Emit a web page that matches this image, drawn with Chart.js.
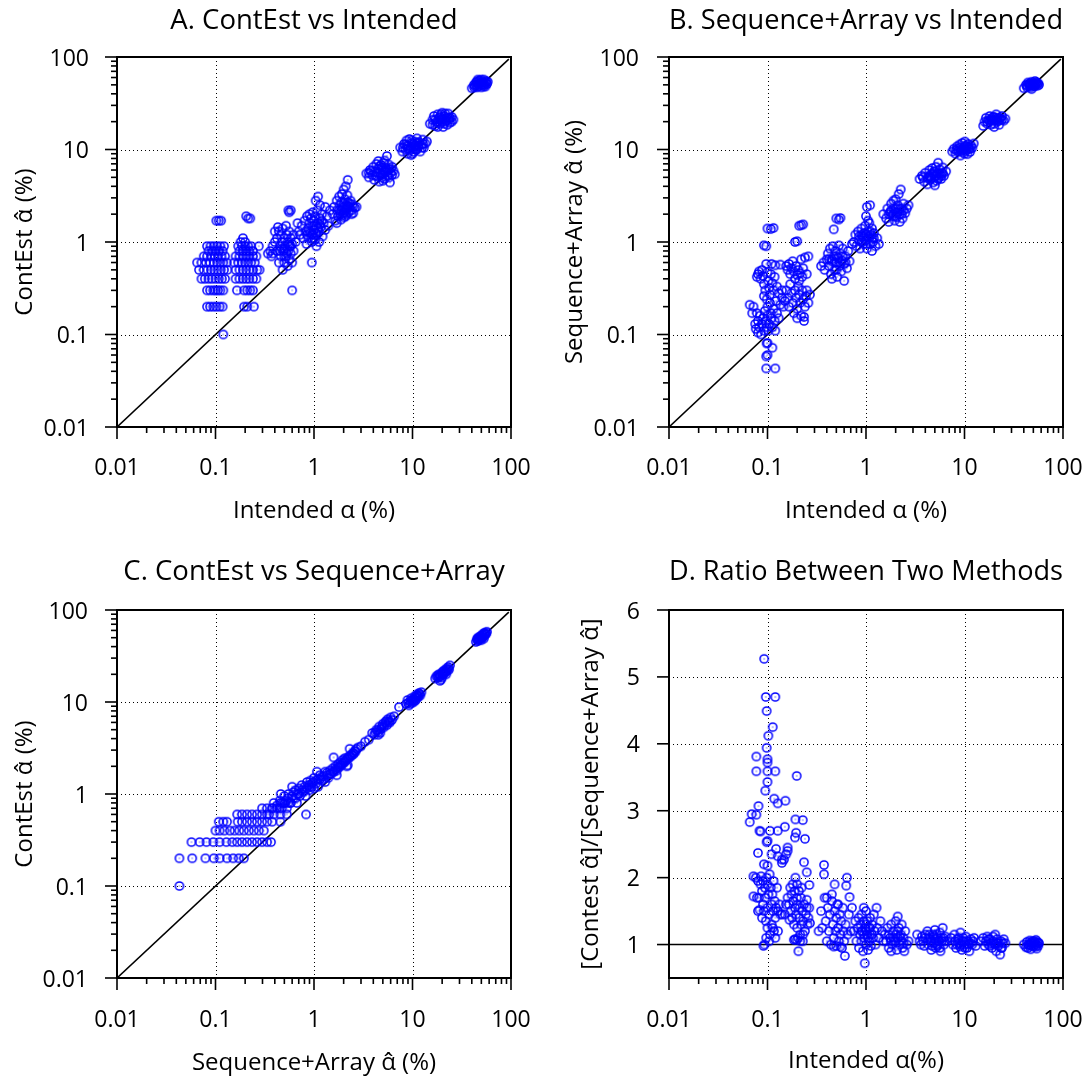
<!DOCTYPE html>
<html><head><meta charset="utf-8">
<script src="https://cdn.jsdelivr.net/npm/chart.js@4.4.1/dist/chart.umd.min.js"></script>
<style>
html,body{margin:0;padding:0;background:#fff;}
body{width:1092px;height:1078px;position:relative;overflow:hidden;}
.box{position:absolute;width:546px;height:539px;}
canvas{display:block;}
</style></head><body>
<div class="box" style="left:0;top:0"><canvas id="cA" width="546" height="539"></canvas></div>
<div class="box" style="left:546px;top:0"><canvas id="cB" width="546" height="539"></canvas></div>
<div class="box" style="left:0;top:539px"><canvas id="cC" width="546" height="539"></canvas></div>
<div class="box" style="left:546px;top:539px"><canvas id="cD" width="546" height="539"></canvas></div>
<script>
// ---------- tick labels ----------
const logTickValues = [0.01, 0.1, 1, 10, 100];
const logTickLabels = ["0.01", "0.1", "1", "10", "100"];
const logGridValues = [0.1, 1, 10];
const ratioTickValues = [1, 2, 3, 4, 5, 6];
const ratioTickLabels = ["1", "2", "3", "4", "5", "6"];
const ratioGridValues = [2, 3, 4, 5];

// ---------- reference lines ----------
const diagX = [0.01, 95];
const diagY = [0.01, 95];
const unityX = [0.01, 100];
const unityY = [1, 1];

// ---------- A: ContEst vs Intended  [intended, contest] ----------
const contestVsIntended = [
[0.082,0.9],[0.089,0.9],[0.096,0.9],[0.104,0.9],[0.112,0.9],[0.122,0.9],
[0.085,0.8],[0.093,0.8],[0.1,0.8],[0.108,0.8],[0.118,0.8],
[0.076,0.7],[0.082,0.7],[0.09,0.7],[0.098,0.7],[0.106,0.7],[0.115,0.7],[0.125,0.7],
[0.065,0.6],[0.072,0.6],[0.08,0.6],[0.088,0.6],[0.096,0.6],[0.104,0.6],[0.112,0.6],[0.12,0.6],[0.13,0.6],
[0.068,0.5],[0.076,0.5],[0.083,0.5],[0.09,0.5],[0.097,0.5],[0.105,0.5],[0.113,0.5],[0.122,0.5],[0.132,0.5],
[0.072,0.4],[0.078,0.4],[0.085,0.4],[0.092,0.4],[0.1,0.4],[0.108,0.4],[0.116,0.4],[0.125,0.4],
[0.082,0.3],[0.088,0.3],[0.095,0.3],[0.1,0.3],[0.106,0.3],[0.112,0.3],[0.12,0.3],
[0.082,0.2],[0.088,0.2],[0.095,0.2],[0.102,0.2],[0.11,0.2],[0.118,0.2],
[0.12,0.1],[0.102,1.7],[0.108,1.7],[0.114,1.7],
[0.19,1.1],[0.18,1.0],[0.2,1.0],
[0.17,0.9],[0.185,0.9],[0.2,0.9],[0.215,0.9],[0.23,0.9],[0.275,0.9],
[0.175,0.8],[0.19,0.8],[0.205,0.8],[0.22,0.8],[0.24,0.8],
[0.16,0.7],[0.175,0.7],[0.19,0.7],[0.205,0.7],[0.22,0.7],[0.24,0.7],[0.26,0.7],
[0.155,0.6],[0.17,0.6],[0.185,0.6],[0.2,0.6],[0.215,0.6],[0.23,0.6],[0.25,0.6],
[0.16,0.5],[0.175,0.5],[0.19,0.5],[0.205,0.5],[0.22,0.5],[0.24,0.5],[0.265,0.5],[0.28,0.5],
[0.16,0.4],[0.175,0.4],[0.19,0.4],[0.205,0.4],[0.22,0.4],[0.24,0.4],[0.26,0.4],
[0.165,0.3],[0.195,0.3],[0.21,0.3],[0.225,0.3],[0.24,0.3],
[0.195,0.2],[0.21,0.2],[0.245,0.2],
[0.205,1.9],[0.215,1.8],[0.225,1.8],
[0.34,0.75],[0.36,0.8],[0.37,0.7],[0.38,0.9],[0.38,0.75],[0.4,1.0],[0.4,1.3],[0.42,1.1],[0.42,0.8],[0.43,1.45],
[0.44,1.3],[0.44,0.6],[0.45,0.9],[0.46,1.2],[0.46,0.7],[0.47,1.0],[0.48,1.4],[0.48,0.5],[0.49,0.8],[0.5,1.1],
[0.5,0.6],[0.51,0.9],[0.52,1.5],[0.52,0.7],[0.53,1.2],[0.54,1.0],[0.54,0.55],[0.55,0.8],[0.56,1.3],[0.56,0.65],
[0.57,0.9],[0.58,1.1],[0.58,0.75],[0.6,0.95],[0.6,0.6],[0.62,1.2],[0.62,0.8],[0.65,1.0],[0.68,1.6],[0.7,1.3],
[0.55,2.2],[0.58,2.2],[0.56,2.1],[0.6,0.3],
[0.45,0.8],[0.5,0.85],[0.55,0.95],[0.5,0.7],[0.47,0.85],[0.53,0.75],[0.58,0.9],
[0.72,1.2],[0.75,1.5],[0.78,1.1],[0.8,1.7],[0.82,1.3],[0.84,0.95],[0.85,1.9],[0.87,1.4],[0.88,1.1],[0.9,1.6],
[0.9,2.0],[0.92,1.25],[0.93,1.8],[0.95,1.0],[0.96,1.5],[0.97,2.1],[0.98,1.2],[1.0,1.7],[1.0,1.35],[1.02,1.05],
[1.03,1.9],[1.04,2.8],[1.05,1.5],[1.07,1.2],[1.08,2.2],[1.1,3.1],[1.1,1.6],[1.12,1.3],[1.13,1.0],[1.15,1.8],
[1.17,1.45],[1.2,2.0],[1.22,1.15],[1.25,1.6],[1.3,1.35],[1.35,1.9],[1.4,1.5],[0.95,0.6],[1.06,0.9],[1.3,2.4],
[1.45,2.2],[1.15,2.5],
[0.9,1.3],[1.0,1.5],[1.05,1.25],[1.1,1.4],[0.95,1.2],[1.0,1.1],[1.15,1.55],[0.85,1.2],[1.2,1.7],
[1.55,2.0],[1.6,2.4],[1.65,1.7],[1.7,2.8],[1.72,2.2],[1.75,1.9],[1.8,3.1],[1.82,2.5],[1.85,2.0],[1.88,1.75],
[1.9,2.7],[1.92,3.3],[1.95,2.3],[1.98,2.05],[2.0,3.7],[2.0,2.6],[2.02,1.85],[2.05,2.9],[2.08,2.2],[2.1,4.0],
[2.12,2.5],[2.15,2.0],[2.18,3.2],[2.2,4.7],[2.2,2.7],[2.25,2.1],[2.3,2.4],[2.35,2.8],[2.4,2.2],[2.45,2.55],
[2.5,2.05],[2.6,2.35],[2.7,2.4],[1.7,1.6],[2.1,1.9],
[1.9,2.2],[2.0,2.4],[2.15,2.3],[2.3,2.6],[2.4,2.0],[1.8,2.2],[2.05,2.1],[2.2,2.45],[1.95,1.95],[2.5,2.4],
[3.4,5.5],[3.6,5.0],[3.7,6.0],[3.9,5.3],[4.0,6.5],[4.1,4.7],[4.2,5.8],[4.3,7.0],[4.4,5.1],[4.5,6.2],
[4.6,4.5],[4.7,5.6],[4.8,6.8],[4.9,5.0],[5.0,6.0],[5.0,5.4],[5.1,7.2],[5.2,4.8],[5.3,6.4],[5.4,5.7],
[5.5,8.5],[5.6,5.2],[5.7,6.9],[5.8,6.1],[5.9,4.4],[6.0,5.6],[6.2,6.5],[6.4,5.9],[6.6,5.4],[5.2,7.6],[4.5,7.5],
[4.2,5.2],[4.6,6.6],[5.0,4.6],[5.4,6.2],[5.8,5.0],[6.2,5.3],[3.8,5.8],[4.4,5.6],[5.6,5.9],[4.8,5.3],
[5.2,5.8],[6.0,6.2],[3.6,5.6],[4.9,6.4],
[7.5,10.5],[7.9,9.5],[8.2,11.5],[8.5,10],[8.7,12.5],[8.9,9],[9.1,11],[9.3,13],[9.5,10.2],[9.7,8.7],
[9.9,11.8],[10.1,10.6],[10.3,9.4],[10.5,12.2],[10.7,11.2],[10.9,9.9],[11.1,13.2],[11.4,10.7],[11.7,12],[12,9.5],
[12.3,11.3],[12.7,12.8],[13,10.4],[13.5,11.6],[14,12.2],[10,9],[11,10],
[8.0,10.5],[8.8,11],[9.4,9.8],[10.2,11.5],[10.8,10.2],[11.5,11],[12.5,10.5],[9,10.2],[10.5,10.8],[11.2,11.8],
[12.8,11.5],[9.8,12.5],[8.5,11.3],
[15,19],[16,21],[16.5,23],[17,18],[17.5,20],[18,24],[18.5,22],[19,19],[19.5,21],[20,25],
[20.5,17.5],[21,23],[21.5,20],[22,22],[22.5,18.5],[23,24.5],[23.5,21],[24,19.5],[25,22.5],[26,21],[20,20],[18,17.5],
[17,21],[18,19.5],[19,22.5],[20,21.5],[21,19],[22,20.5],[23,22],[24,22],[19.5,24],[21.5,24.5],[16,18.5],[25,20],
[40,46],[42,50],[43,48],[44,53],[45,47],[46,51],[47,55],[48,49],[49,52],[50,47],
[51,54],[52,50],[53,57],[54,52],[55,48],[56,55],[57,51],[46,57],[50,57],
[42,47],[44,50],[46,48],[48,52],[50,50],[52,53],[54,50],[56,53],[48,56],[45,54],[53,48],[58,54]
];

// ---------- B: Sequence+Array vs Intended  [intended, seqArray] ----------
const seqArrayVsIntended = [
[0.066,0.21],[0.07,0.17],[0.072,0.2],[0.075,0.13],[0.076,0.115],[0.078,0.17],[0.08,0.105],[0.08,0.14],[0.082,0.12],[0.084,0.16],
[0.086,0.1],[0.088,0.13],[0.09,0.15],[0.092,0.11],[0.094,0.18],[0.096,0.14],[0.098,0.12],[0.1,0.16],[0.1,0.2],[0.102,0.11],
[0.104,0.13],[0.106,0.22],[0.108,0.17],[0.11,0.15],[0.112,0.12],[0.115,0.19],[0.118,0.14],[0.12,0.11],[0.122,0.23],[0.125,0.17],
[0.13,0.15],[0.135,0.21],[0.14,0.25],
[0.078,0.42],[0.08,0.45],[0.082,0.48],[0.085,0.4],[0.088,0.5],[0.09,0.43],[0.092,0.35],[0.095,0.3],[0.097,0.58],[0.1,0.47],
[0.102,0.38],[0.104,0.32],[0.106,0.27],[0.108,0.45],[0.11,0.58],[0.112,0.36],[0.115,0.3],[0.118,0.42],[0.12,0.56],[0.125,0.33],
[0.13,0.28],[0.135,0.57],[0.092,0.26],[0.098,0.24],
[0.092,0.92],[0.097,0.9],[0.1,1.4],[0.108,1.38],[0.115,1.42],[0.098,0.08],[0.1,0.081],[0.097,0.058],[0.1,0.06],[0.112,0.072],
[0.097,0.043],[0.12,0.043],
[0.155,0.55],[0.16,0.5],[0.165,0.58],[0.17,0.45],[0.175,0.52],[0.18,0.62],[0.185,0.48],[0.19,0.4],[0.195,0.55],[0.2,0.44],
[0.205,0.5],[0.21,0.38],[0.215,0.46],[0.22,0.65],[0.225,0.42],[0.23,0.52],[0.24,0.68],[0.25,0.45],[0.26,0.7],
[0.155,0.3],[0.16,0.25],[0.165,0.2],[0.17,0.35],[0.175,0.28],[0.18,0.22],[0.185,0.17],[0.19,0.3],[0.195,0.25],[0.2,0.19],
[0.205,0.33],[0.21,0.27],[0.215,0.22],[0.22,0.16],[0.225,0.3],[0.23,0.24],[0.235,0.14],[0.24,0.2],[0.245,0.26],[0.25,0.3],
[0.26,0.22],[0.27,0.27],[0.235,0.155],[0.145,0.2],[0.14,0.3],[0.15,0.23],[0.19,1.0],[0.2,1.02],[0.21,1.5],[0.22,1.52],
[0.23,1.55],[0.2,0.15],
[0.35,0.55],[0.37,0.6],[0.38,0.5],[0.4,0.65],[0.41,0.75],[0.42,0.55],[0.43,0.85],[0.44,0.45],[0.45,0.62],[0.46,0.9],
[0.47,0.7],[0.48,0.5],[0.49,0.8],[0.5,0.6],[0.51,0.42],[0.52,0.68],[0.53,0.92],[0.54,0.55],[0.55,0.75],[0.56,0.48],
[0.57,0.63],[0.58,0.85],[0.6,0.58],[0.6,0.38],[0.62,0.7],[0.64,0.52],[0.66,0.8],[0.68,0.62],[0.47,1.37],[0.5,1.8],
[0.55,1.82],[0.53,1.75],[0.72,0.95],[0.45,0.4],
[0.45,0.65],[0.5,0.7],[0.55,0.6],[0.5,0.5],[0.48,0.6],[0.58,0.7],[0.42,0.65],[0.62,0.6],
[0.75,1.0],[0.78,1.2],[0.8,0.9],[0.83,1.3],[0.85,1.05],[0.87,0.85],[0.9,1.4],[0.92,1.15],[0.94,0.95],[0.96,1.25],
[0.98,1.5],[1.0,1.05],[1.02,0.85],[1.04,1.3],[1.06,1.1],[1.08,1.6],[1.1,0.95],[1.12,1.2],[1.15,1.4],[1.18,1.0],
[1.2,1.25],[1.25,0.9],[1.3,1.1],[1.35,0.95],[1.0,1.9],[1.02,2.4],[1.1,2.5],[1.05,1.7],[0.9,1.0],[1.15,0.8],
[0.9,1.2],[1.0,1.2],[1.05,1.15],[1.1,1.3],[0.95,1.1],[1.0,0.95],[1.15,1.1],[0.85,1.15],[1.2,1.1],
[1.5,2.0],[1.6,1.8],[1.65,2.3],[1.7,1.65],[1.75,2.1],[1.8,2.6],[1.85,1.9],[1.9,2.3],[1.95,1.7],[2.0,2.1],
[2.0,2.9],[2.05,1.85],[2.1,2.5],[2.15,3.3],[2.2,2.0],[2.25,3.7],[2.3,2.3],[2.35,1.8],[2.4,2.6],[2.5,2.05],
[2.6,2.3],[2.7,2.5],[2.2,1.65],[1.9,2.8],
[1.8,2.2],[2.0,2.3],[2.1,2.1],[2.2,2.3],[1.9,2.0],[2.3,2.0],[2.4,2.2],[2.0,1.9],[1.7,2.0],
[3.5,4.8],[3.7,5.2],[3.9,4.5],[4.0,5.6],[4.2,4.2],[4.3,5.0],[4.4,6.0],[4.5,4.7],[4.6,5.4],[4.8,4.4],
[4.9,5.8],[5.0,5.1],[5.1,6.5],[5.2,4.6],[5.3,5.5],[5.4,7.2],[5.5,5.0],[5.6,6.1],[5.8,4.8],[5.9,5.6],
[6.0,6.4],[6.2,5.2],[6.5,5.8],[4.7,6.3],[5.0,4.1],
[4.4,5.2],[4.8,5.5],[5.2,5.2],[5.6,5.5],[4.2,4.9],[5.0,5.8],[5.4,4.8],[6.0,5.5],[4.6,4.9],[5.8,5.2],[3.8,5.0],
[7.5,9.5],[7.8,10.2],[8.1,9.0],[8.4,10.8],[8.6,9.6],[8.9,11.3],[9.1,8.6],[9.3,10.0],[9.5,11.8],[9.7,9.3],
[9.9,10.6],[10.1,12.2],[10.3,9.7],[10.5,10.9],[10.7,8.9],[10.9,11.5],[11.1,10.2],[11.4,9.4],[11.7,11.0],[12.0,10.4],
[12.4,11.6],[10.0,9.0],
[8.5,10.2],[9,10.5],[9.5,9.8],[10,10.2],[10.5,10],[11,10.6],[9.2,9.6],[10.2,11],[11.5,10.2],[8.2,9.8],
[15.5,18],[16,20],[16.5,22],[17,19],[17.5,21],[18,23],[18.5,18.5],[19,20.5],[19.5,22.5],[20,19],
[20.5,21.5],[21,24],[21.5,20],[22,22],[22.5,18.5],[23,21],[24,23],[25,20.5],[26,21.5],[20,17.5],
[17,20],[18,20.5],[19,21.5],[20,20.5],[21,21],[22,20.5],[23,22],[18.5,21],[20,22.5],[24,21],
[40,46],[42,50],[43,47],[44,53],[45,49],[46,52],[47,47],[48,54],[49,50],[50,52],
[51,48],[52,55],[53,51],[54,53],[55,49],[56,52],[57,50],[48,45],
[43,49],[45,51],[47,50],[49,52],[51,51],[53,53],[55,51],[50,49],[46,49],[52,49]
];

// ---------- C: ContEst vs Sequence+Array  [seqArray, contest] ----------
const contestVsSeqArray = [
[0.043,0.1],
[0.043,0.2],[0.058,0.2],[0.079,0.2],[0.096,0.2],[0.11,0.2],[0.131,0.2],[0.151,0.2],[0.172,0.2],[0.194,0.2],
[0.057,0.3],[0.069,0.3],[0.081,0.3],[0.095,0.3],[0.11,0.3],[0.129,0.3],[0.148,0.3],[0.166,0.3],[0.186,0.3],[0.209,0.3],
[0.235,0.3],[0.264,0.3],[0.297,0.3],[0.334,0.3],[0.366,0.3],
[0.1,0.4],[0.11,0.4],[0.123,0.4],[0.14,0.4],[0.156,0.4],[0.174,0.4],[0.194,0.4],[0.218,0.4],[0.245,0.4],[0.275,0.4],[0.309,0.4],
[0.108,0.5],[0.12,0.5],[0.131,0.5],[0.168,0.5],[0.186,0.5],[0.209,0.5],[0.235,0.5],[0.264,0.5],[0.297,0.5],[0.334,0.5],[0.376,0.5],[0.456,0.5],
[0.166,0.6],[0.186,0.6],[0.209,0.6],[0.235,0.6],[0.264,0.6],[0.297,0.6],[0.334,0.6],[0.39,0.6],[0.456,0.6],[0.53,0.6],[0.83,0.6],
[0.297,0.7],[0.334,0.7],[0.375,0.7],[0.42,0.7],[0.47,0.7],[0.53,0.7],
[0.39,0.8],[0.456,0.8],[0.51,0.8],[0.576,0.8],[0.67,0.8],
[0.46,1.0],[0.5,0.95],[0.55,1.0],[0.6,1.2],
[0.35,0.6],[0.38,0.7],[0.42,0.75],[0.45,0.85],[0.48,0.8],[0.52,0.85],[0.55,0.9],[0.58,0.8],[0.6,0.95],
[0.62,1.05],[0.65,0.9],[0.65,1.1],[0.68,1.0],[0.7,1.15],[0.72,0.95],[0.75,1.1],[0.75,1.25],[0.78,1.05],[0.8,1.2],
[0.82,0.95],[0.85,1.15],[0.85,1.35],[0.88,1.25],[0.9,1.1],[0.92,1.4],[0.95,1.2],[0.98,1.35],[1.0,1.15],[1.0,1.5],
[1.05,1.3],[1.07,1.75],[1.1,1.45],[1.1,1.2],[1.15,1.6],[1.2,1.4],[1.25,1.55],[1.3,1.35],[1.3,1.75],[1.35,1.6],
[1.4,1.5],[1.45,1.8],[1.5,1.65],[1.55,1.9],[1.6,1.75],[1.65,2.0],[1.7,1.8],[1.75,2.1],[1.8,1.95],[1.85,2.2],
[1.9,2.05],[1.95,2.35],[2.0,2.2],[2.05,2.45],[2.1,2.3],[2.15,2.0],[2.2,2.5],[2.3,2.6],[2.3,3.1],[2.4,2.7],
[2.5,2.8],[2.6,2.95],[2.7,3.1],[2.8,3.2],[3.0,3.3],[1.7,1.6],[2.2,2.05],[1.58,2.5],
[0.9,1.2],[0.95,1.3],[1.05,1.4],[1.15,1.45],[1.2,1.55],[1.25,1.45],[1.35,1.7],[1.45,1.65],[1.55,1.75],[1.65,1.85],
[1.75,1.95],[1.85,2.05],[1.95,2.15],[2.05,2.25],[2.15,2.4],[2.25,2.45],[2.35,2.55],[2.45,2.65],[2.55,2.75],[2.65,2.9],
[0.55,0.8],[0.62,0.9],[0.7,1.0],[0.8,1.1],[0.45,0.7],[0.5,0.8],
[3.3,3.7],[3.6,3.9],[3.9,4.6],[4.1,4.4],[4.3,5.0],[4.5,4.7],[4.6,5.4],[4.8,5.1],[5.0,5.8],[5.1,5.3],
[5.3,6.0],[5.5,5.6],[5.6,6.5],[5.8,6.2],[6.0,6.8],[6.2,6.4],[4.5,4.4],[4.7,4.6],[5.9,6.0],[6.5,7.0],[7.3,8.8],
[4.4,4.9],[4.9,5.4],[5.2,5.6],[5.4,6.2],[5.7,6.0],[4.2,4.7],
[8.6,9.5],[8.9,10.5],[9.2,9.2],[9.5,10.2],[9.7,11],[10,9.8],[10.2,10.7],[10.5,11.5],[10.8,10.5],[11,12],
[11.3,11.2],[11.6,12.5],[12,11.8],[12.3,12.8],[9,9.8],[10,10.5],[11.5,11.5],
[9.5,9.6],[10.2,10.2],[10.8,11.2],[11.2,11.8],[9.8,10.4],[10.5,10.2],[11.8,12.2],
[17,18],[17.5,19],[18,18.5],[18.5,20],[19,19.5],[19.5,17.5],[20,21],[20.5,20],[21,22],[21.5,21],
[22,23],[22.5,22],[23,24],[23.5,22.5],[24,25],[20,18.5],[19,17],[22,20],
[18,19.5],[19,19],[20,20],[21,20.5],[22,21.5],[23,23],[20.5,21.5],[18.5,18.5],
[44,45],[45,48],[46,46],[47,50],[48,48],[49,52],[50,50],[51,54],[52,51],[53,56],
[54,53],[55,57],[56,55],[57,58],[46,50],[50,47],[53,49],
[46,48],[48,50],[50,52],[52,53],[54,55],[47,47],[51,50],[55,55],[49,49]
];

// ---------- D: Ratio vs Intended  [intended, ratio] ----------
const ratioVsIntended = [
[0.0925,5.27],[0.096,4.7],[0.12,4.7],[0.098,4.49],[0.113,4.25],[0.102,4.12],[0.098,3.94],[0.077,3.81],[0.1,3.77],[0.1,3.72],
[0.077,3.59],[0.1,3.59],[0.12,3.59],[0.1,3.43],[0.095,3.3],[0.117,3.18],[0.127,3.11],[0.081,3.07],[0.069,2.95],[0.077,2.94],
[0.066,2.83],[0.083,2.7],[0.085,2.69],[0.106,2.7],[0.127,2.7],[0.098,2.53],[0.1,2.55],[0.122,2.43],[0.08,2.37],[0.1,2.18],
[0.072,2.02],[0.092,2.2],[0.11,2.35],[0.127,2.32],[0.14,2.27],[0.147,2.27],[0.14,2.22],[0.152,3.15],[0.15,2.76],[0.16,2.45],
[0.16,2.4],[0.155,2.35],
[0.076,2.0],[0.08,1.95],[0.082,1.7],[0.085,1.9],[0.086,2.02],[0.088,1.8],[0.09,1.6],[0.09,1.95],[0.092,1.5],[0.094,1.85],
[0.095,1.7],[0.096,1.35],[0.098,2.0],[0.1,1.9],[0.1,1.55],[0.1,1.25],[0.102,1.75],[0.104,1.45],[0.105,2.05],[0.106,1.15],
[0.108,1.85],[0.11,1.6],[0.11,1.3],[0.112,1.75],[0.114,1.5],[0.115,1.95],[0.116,1.2],[0.118,1.65],[0.12,1.4],[0.122,1.55],
[0.125,1.85],[0.128,1.5],[0.08,1.5],[0.078,1.7],[0.083,1.52],[0.072,1.72],[0.088,1.4],[0.091,0.98],[0.093,1.0],[0.104,1.05],
[0.12,1.1],[0.113,1.25],[0.097,1.1],[0.135,1.45],[0.132,1.6],[0.128,1.2],
[0.16,1.7],[0.165,1.6],[0.17,1.85],[0.172,1.5],[0.175,1.75],[0.178,1.4],[0.18,1.9],[0.182,1.65],[0.185,1.3],[0.188,1.8],
[0.19,1.55],[0.192,2.0],[0.195,1.45],[0.198,1.7],[0.2,1.9],[0.2,1.25],[0.202,1.6],[0.205,1.1],[0.208,1.8],[0.21,1.4],
[0.212,1.55],[0.215,1.15],[0.218,1.7],[0.22,1.3],[0.222,1.85],[0.225,1.5],[0.228,1.05],[0.23,1.35],[0.235,1.6],[0.24,1.2],
[0.245,1.45],[0.25,1.55],[0.255,1.3],[0.26,1.4],[0.265,1.55],[0.27,1.32],[0.19,1.08],[0.198,1.07],[0.206,0.9],[0.185,1.07],
[0.215,1.05],[0.15,1.45],[0.14,1.45],[0.154,1.6],[0.167,1.37],[0.198,3.52],[0.192,2.87],[0.228,2.86],[0.195,2.67],[0.19,2.6],
[0.24,2.58],[0.235,2.23],[0.25,2.08],[0.266,1.89],[0.25,1.67],[0.23,1.15],
[0.33,1.2],[0.35,1.5],[0.36,1.25],[0.375,2.19],[0.375,2.05],[0.38,1.7],[0.39,1.35],[0.4,1.05],[0.41,1.55],[0.42,1.2],
[0.43,1.45],[0.44,1.0],[0.45,1.65],[0.46,1.3],[0.47,1.1],[0.48,1.9],[0.48,1.5],[0.49,1.2],[0.5,1.4],[0.5,0.98],
[0.51,1.6],[0.52,1.25],[0.53,1.05],[0.54,1.45],[0.55,1.15],[0.56,1.35],[0.57,0.95],[0.58,1.55],[0.59,1.2],[0.6,1.05],
[0.61,0.83],[0.62,1.3],[0.63,1.88],[0.64,2.0],[0.65,1.15],[0.67,1.45],[0.68,1.71],[0.7,1.2],[0.72,1.55],[0.45,1.75],
[0.52,1.6],[0.4,1.7],[0.55,0.97],[0.47,0.97],
[0.75,1.2],[0.78,1.35],[0.8,1.05],[0.82,1.25],[0.84,1.4],[0.85,0.95],[0.87,1.15],[0.88,1.3],[0.9,1.05],[0.9,1.45],
[0.92,1.2],[0.93,0.9],[0.95,1.35],[0.96,1.1],[0.97,0.72],[0.98,1.25],[1.0,1.5],[1.0,1.0],[1.02,1.15],[1.03,1.35],
[1.05,0.92],[1.06,1.25],[1.08,1.05],[1.1,1.4],[1.1,1.15],[1.12,0.98],[1.15,1.3],[1.18,1.1],[1.2,1.45],[1.22,1.2],
[1.25,1.0],[1.28,1.55],[1.3,1.25],[1.35,1.1],[1.4,1.35],[1.45,1.2],[1.5,1.05],[0.95,1.55],
[0.9,1.2],[1.0,1.3],[1.05,1.1],[1.1,1.25],[0.95,1.15],[1.15,1.15],[1.0,1.2],
[1.55,1.15],[1.6,1.05],[1.65,1.25],[1.7,0.95],[1.75,1.1],[1.8,1.3],[1.85,1.0],[1.9,1.2],[1.95,1.05],[2.0,1.35],
[2.0,1.15],[2.05,0.92],[2.1,1.1],[2.1,1.42],[2.15,1.25],[2.2,1.0],[2.25,1.15],[2.3,1.3],[2.35,0.95],[2.4,1.1],
[2.5,1.2],[2.6,1.0],[2.7,1.05],[2.45,0.9],[1.8,0.9],
[1.7,1.15],[1.9,1.1],[2.0,1.05],[2.2,1.12],[2.3,1.05],[1.8,1.05],[2.1,1.2],[2.4,1.02],
[3.3,1.15],[3.5,1.05],[3.7,1.12],[3.9,0.98],[4.0,1.1],[4.2,1.2],[4.3,1.0],[4.5,1.08],[4.6,0.92],[4.8,1.15],
[4.9,1.02],[5.0,1.22],[5.1,0.95],[5.3,1.1],[5.4,1.0],[5.6,1.18],[5.7,0.9],[5.9,1.05],[6.0,1.25],[6.2,1.0],
[6.4,1.12],[6.7,1.05],[5.2,1.05],[4.4,1.15],
[3.6,1.0],[4.0,1.15],[4.3,1.1],[4.6,1.05],[4.9,1.12],[5.2,1.15],[5.5,1.05],[5.8,1.1],[6.1,1.1],[4.7,0.98],
[5.3,0.98],[5.6,0.95],[3.8,1.05],[6.3,1.05],[5.0,1.08],
[7.3,1.1],[7.6,1.0],[7.9,1.15],[8.2,0.95],[8.5,1.08],[8.8,1.02],[9.1,1.18],[9.4,0.92],[9.7,1.1],[10,1.0],
[10.3,1.12],[10.6,0.95],[10.9,1.05],[11.2,0.9],[11.6,1.08],[12,1.0],[12.5,1.1],[13,0.98],[9.5,1.05],
[8.0,1.05],[8.7,1.1],[9.2,1.0],[9.8,1.05],[10.4,1.05],[11,1.0],[11.5,1.02],[8.4,1.0],[10.1,0.95],[12.2,1.05],[9,0.97],
[14.5,1.05],[15.5,1.1],[16,0.98],[17,1.12],[17.5,1.0],[18,1.08],[19,0.95],[19.5,1.12],[20,1.02],[21,0.9],
[21.5,1.08],[22,0.98],[23,0.85],[23.5,1.05],[24,0.95],[25,1.08],[26,1.02],[20.5,1.15],
[16.5,1.05],[18.5,1.02],[19.5,1.05],[20.5,1.0],[21.5,1.02],[22.5,1.02],[23.5,0.95],[18,0.98],[24.5,1.02],[17.5,1.08],
[40,1.0],[42,0.96],[43,1.04],[45,0.99],[46,1.06],[47,0.93],[48,1.02],[50,0.97],[51,1.05],[52,1.0],
[54,0.94],[55,1.04],[56,0.98],[57,1.02],[44,0.95],[53,1.07],
[44,1.0],[46,1.0],[48,0.98],[50,1.02],[52,1.03],[54,1.0],[47,1.03],[49,1.05],[53,0.97],[56,1.02]
];

// ---------- styling ----------
const BLUE = '#0000ff';
const TXT = 'Open Sans';
function makeMarker() {
  const c = document.createElement('canvas');
  c.width = 12; c.height = 12;
  const g = c.getContext('2d');
  g.strokeStyle = BLUE; g.lineWidth = 1.5;
  g.beginPath(); g.arc(6, 6, 4.1, 0, Math.PI * 2); g.stroke();
  g.fillStyle = BLUE; g.fillRect(5.5, 5.5, 1, 1);
  return c;
}
const marker = makeMarker();

const logMinor = [];
[0.01, 0.1, 1, 10].forEach(d => { for (let k = 2; k <= 9; k++) logMinor.push(+(k * d).toPrecision(3)); });

const framePlugin = {
  id: 'frame',
  beforeDatasetsDraw(chart, args, o) {
    const { ctx, chartArea: a, scales: { x, y } } = chart;
    ctx.save();
    ctx.strokeStyle = '#000'; ctx.lineWidth = 1; ctx.setLineDash([1, 3]);
    o.gridX.forEach(v => {
      const px = Math.round(x.getPixelForValue(v)) + 0.5;
      ctx.beginPath(); ctx.moveTo(px, a.top); ctx.lineTo(px, a.bottom); ctx.stroke();
    });
    o.gridY.forEach(v => {
      const py = Math.round(y.getPixelForValue(v)) + 0.5;
      ctx.beginPath(); ctx.moveTo(a.left, py); ctx.lineTo(a.right, py); ctx.stroke();
    });
    ctx.restore();
  },
  afterDatasetsDraw(chart, args, o) {
    const { ctx, chartArea: a, scales: { x, y } } = chart;
    ctx.save();
    ctx.strokeStyle = '#000';
    ctx.lineWidth = 2;
    ctx.strokeRect(a.left, a.top, a.right - a.left, a.bottom - a.top);
    ctx.lineWidth = 1.6;
    const tx = (vals, len) => vals.forEach(v => {
      const px = x.getPixelForValue(v);
      ctx.beginPath(); ctx.moveTo(px, a.bottom); ctx.lineTo(px, a.bottom + len); ctx.stroke();
    });
    const ty = (vals, len) => vals.forEach(v => {
      const py = y.getPixelForValue(v);
      ctx.beginPath(); ctx.moveTo(a.left, py); ctx.lineTo(a.left - len, py); ctx.stroke();
    });
    tx(logTickValues, 12); tx(logMinor, 6);
    ty(o.majorY, 12); ty(o.minorY, 6);
    ctx.restore();
  }
};

function buildChart(id, p) {
  return new Chart(document.getElementById(id), {
    type: 'scatter',
    data: {
      datasets: [
        { data: p.points.map(([x, y]) => ({ x, y })), pointStyle: marker, pointRadius: 4, pointHoverRadius: 4 },
        { data: p.refX.map((x, i) => ({ x, y: p.refY[i] })), showLine: true, borderColor: '#000', borderWidth: 1.6, pointRadius: 0, fill: false }
      ]
    },
    options: {
      responsive: false, animation: false, devicePixelRatio: 1, events: [],
      layout: { padding: { left: 0, right: p.padRight, top: 0, bottom: 0 } },
      plugins: {
        legend: { display: false }, tooltip: { enabled: false },
        title: { display: true, text: p.title, fullSize: false, color: '#000',
          font: { family: TXT, size: 27.5, weight: 'normal', lineHeight: 1.2 },
          padding: { top: p.tTop, bottom: p.tBot } },
        frame: { gridX: logGridValues, gridY: p.gridY, majorY: p.majorY, minorY: p.minorY }
      },
      scales: {
        x: {
          type: 'logarithmic', min: 0.01, max: 100,
          afterBuildTicks: s => { s.ticks = logTickValues.map(v => ({ value: v })); },
          afterFit: s => { s.height = p.xH; s.paddingLeft = 0; s.paddingRight = 0; },
          grid: { display: false, drawTicks: false }, border: { display: false },
          ticks: { callback: (v, i) => logTickLabels[i], autoSkip: false, maxRotation: 0, minRotation: 0,
            color: '#000', padding: p.xTickPad, font: { family: TXT, size: 23 } },
          title: { display: true, text: p.xTitle, color: '#000', font: { family: TXT, size: 24, lineHeight: 1.2 },
            padding: { top: 0, bottom: p.xtPad } }
        },
        y: p.yScale
      }
    },
    plugins: [framePlugin]
  });
}

function logY(title, yW, tickPad, titlePad) {
  return {
    type: 'logarithmic', min: 0.01, max: 100,
    afterBuildTicks: s => { s.ticks = logTickValues.map(v => ({ value: v })); },
    afterFit: s => { s.width = yW; s.paddingTop = 0; s.paddingBottom = 0; },
    grid: { display: false, drawTicks: false }, border: { display: false },
    ticks: { callback: (v, i) => logTickLabels[i], autoSkip: false, color: '#000', padding: tickPad,
      labelOffset: 2, font: { family: TXT, size: 23 } },
    title: { display: true, text: title, color: '#000', font: { family: TXT, size: 24, lineHeight: 1.2 },
      padding: { top: titlePad, bottom: 0 } }
  };
}

buildChart('cA', {
  points: contestVsIntended, refX: diagX, refY: diagY,
  title: 'A. ContEst vs Intended', tTop: 5.1, tBot: 18.9, padRight: 35,
  xH: 112, xTickPad: 27.4, xTitle: 'Intended \u03B1 (%)', xtPad: 13.8,
  gridY: logGridValues, majorY: logTickValues, minorY: logMinor,
  yScale: logY('ContEst \u03B1\u0302 (%)', 117, 28, 10.8)
});
buildChart('cB', {
  points: seqArrayVsIntended, refX: diagX, refY: diagY,
  title: 'B. Sequence+Array vs Intended', tTop: 5.1, tBot: 18.9, padRight: 29,
  xH: 112, xTickPad: 27.4, xTitle: 'Intended \u03B1 (%)', xtPad: 13.8,
  gridY: logGridValues, majorY: logTickValues, minorY: logMinor,
  yScale: logY('Sequence+Array \u03B1\u0302 (%)', 123, 30, 14.8)
});
buildChart('cC', {
  points: contestVsSeqArray, refX: diagX, refY: diagY,
  title: 'C. ContEst vs Sequence+Array', tTop: 16.6, tBot: 21.4, padRight: 35,
  xH: 100, xTickPad: 28.4, xTitle: 'Sequence+Array \u03B1\u0302 (%)', xtPad: 0.8,
  gridY: logGridValues, majorY: logTickValues, minorY: logMinor,
  yScale: logY('ContEst \u03B1\u0302 (%)', 117, 29, 10.8)
});
buildChart('cD', {
  points: ratioVsIntended, refX: unityX, refY: unityY,
  title: 'D. Ratio Between Two Methods', tTop: 16.6, tBot: 21.4, padRight: 29,
  xH: 100, xTickPad: 28.4, xTitle: 'Intended \u03B1(%)', xtPad: 2.8,
  gridY: ratioGridValues, majorY: ratioTickValues, minorY: [],
  yScale: {
    type: 'linear', min: 0.5, max: 6,
    afterBuildTicks: s => { s.ticks = ratioTickValues.map(v => ({ value: v })); },
    afterFit: s => { s.width = 123; s.paddingTop = 0; s.paddingBottom = 0; },
    grid: { display: false, drawTicks: false }, border: { display: false },
    ticks: { callback: (v, i) => ratioTickLabels[i], autoSkip: false, color: '#000', padding: 29,
      labelOffset: 2, font: { family: TXT, size: 23 } },
    title: { display: true, text: '[Contest \u03B1\u0302]/[Sequence+Array \u03B1\u0302]', color: '#000',
      font: { family: TXT, size: 24, lineHeight: 1.2 }, padding: { top: 30.8, bottom: 0 } }
  }
});
</script>
</body></html>
